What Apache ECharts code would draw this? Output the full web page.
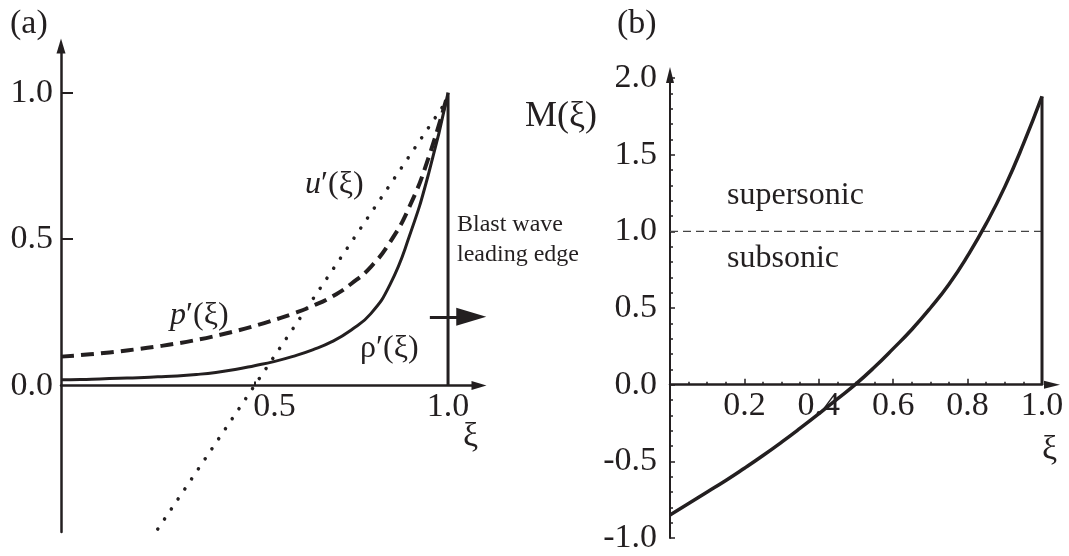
<!DOCTYPE html>
<html><head><meta charset="utf-8">
<script src="https://cdn.jsdelivr.net/npm/echarts@6/dist/echarts.min.js"></script>
<style>html,body{margin:0;padding:0;background:#fff}#c{width:1069px;height:556px}</style>
</head><body><div id="c"></div>
<script>
// ---- panel (a) data ----
const xiGrid = [0, 0.05, 0.1, 0.15, 0.2, 0.25, 0.3, 0.35, 0.4, 0.45, 0.5, 0.55, 0.6, 0.65, 0.7, 0.75, 0.8, 0.85, 0.9, 0.95, 1.0];
const rhoVal = [0.020, 0.021, 0.023, 0.025, 0.027, 0.030, 0.033, 0.038, 0.045, 0.055, 0.068, 0.082, 0.100, 0.122, 0.150, 0.190, 0.245, 0.345, 0.510, 0.725, 1.0];
const pVal = [0.099, 0.104, 0.110, 0.117, 0.125, 0.134, 0.144, 0.156, 0.170, 0.186, 0.204, 0.224, 0.246, 0.272, 0.304, 0.348, 0.405, 0.490, 0.610, 0.780, 1.0];
const uXi = [0.25, 0.5, 0.75, 1.0];
const uVal = [-0.49, 0.0, 0.49, 0.98];
const edgeA = [[1.0, 0.0], [1.0, 1.0]];
const blastArrow = [[0.953, 0.235], [1.06, 0.235]];
const aXTickLabels = [0.5, 1.0];
const aXTicks = [0.5];
const aYTickLabels = [0.0, 0.5, 1.0];
const aYTicks = [0.5, 1.0];
// ---- panel (b) data ----
const mVal = [-0.85, -0.775, -0.70, -0.625, -0.545, -0.462, -0.375, -0.284, -0.19, -0.093, 0.005, 0.115, 0.235, 0.36, 0.50, 0.655, 0.84, 1.05, 1.29, 1.57, 1.88];
const edgeB = [[1.0, 0.0], [1.0, 1.88]];
const sonicLine = [[0.0, 1.0], [1.0, 1.0]];
const bXTickLabels = [0.2, 0.4, 0.6, 0.8, 1.0];

const INK = '#231f20';
const FF = '"Liberation Serif", "DejaVu Serif", serif';
const pair = (xs, ys) => xs.map((x, i) => [x, ys[i]]);

const chart = echarts.init(document.getElementById('c'), null, {renderer: 'canvas'});
const lbl = (extra) => Object.assign({color: INK, fontFamily: FF, fontSize: 34}, extra);
const txt = (x, y, text, size, extra) => Object.assign({
  type: 'text', x: x, y: y,
  style: Object.assign({text: text, font: size + 'px ' + FF, fill: INK, textAlign: 'left', textVerticalAlign: 'middle'}, extra || {})
});

chart.setOption({
  animation: false,
  backgroundColor: '#fff',
  grid: [
    {left: 61, top: 46, width: 418, height: 486, outerBoundsMode: 'none', containLabel: false},
    {left: 670, top: 78, width: 372, height: 460, outerBoundsMode: 'none', containLabel: false}
  ],
  xAxis: [
    {type: 'value', gridIndex: 0, min: 0, max: 1.08, position: 'bottom', offset: -146.4,
     axisLine: {onZero: false, lineStyle: {color: INK, width: 2.5}, symbol: ['none', 'triangle'], symbolSize: [9, 15], symbolOffset: [0, 0]},
     axisTick: {show: true, inside: true, length: 4, customValues: aXTicks, lineStyle: {color: INK, width: 2}},
     axisLabel: lbl({margin: 4, customValues: aXTickLabels,
       formatter: v => v === 0.5 ? '{s|0.5}' : v.toFixed(1),
       rich: {s: {color: INK, fontFamily: FF, fontSize: 34, padding: [0, 0, 0, 40]}}}),
     splitLine: {show: false}},
    {type: 'value', gridIndex: 1, min: 0, max: 1.0, interval: 0.2, position: 'bottom', offset: -153.3,
     axisLine: {onZero: false, lineStyle: {color: INK, width: 2.5}, symbol: ['none', 'triangle'], symbolSize: [8, 16], symbolOffset: [0, 10]},
     axisTick: {show: true, inside: true, length: 6, lineStyle: {color: INK, width: 1.5}},
     minorTick: {show: true, splitNumber: 4, length: 3, lineStyle: {color: INK, width: 1.5}},
     axisLabel: lbl({margin: 4, customValues: bXTickLabels, formatter: v => v.toFixed(1)}),
     splitLine: {show: false}, minorSplitLine: {show: false}}
  ],
  yAxis: [
    {type: 'value', gridIndex: 0, min: -0.5, max: 1.16,
     axisLine: {onZero: false, lineStyle: {color: INK, width: 2.5}, symbol: ['none', 'triangle'], symbolSize: [9, 15]},
     axisTick: {show: true, inside: true, length: 12, customValues: aYTicks, lineStyle: {color: INK, width: 2}},
     axisLabel: lbl({margin: 8, customValues: aYTickLabels, formatter: v => v.toFixed(1)}),
     splitLine: {show: false}},
    {type: 'value', gridIndex: 1, min: -1.0, max: 2.0, interval: 0.5,
     axisLine: {onZero: false, lineStyle: {color: INK, width: 2}, symbol: ['none', 'triangle'], symbolSize: [8, 16], symbolOffset: [0, 3]},
     axisTick: {show: true, inside: true, length: 5, lineStyle: {color: INK, width: 1.5}},
     minorTick: {show: true, splitNumber: 5, length: 3, lineStyle: {color: INK, width: 1.5}},
     axisLabel: lbl({margin: 13, formatter: v => v.toFixed(1)}),
     splitLine: {show: false}, minorSplitLine: {show: false}}
  ],
  series: [
    {type: 'line', xAxisIndex: 0, yAxisIndex: 0, data: pair(uXi, uVal), showSymbol: false, clip: false,
     lineStyle: {color: INK, width: 3.5, type: [0.1, 12], cap: 'round'}},
    {type: 'line', xAxisIndex: 0, yAxisIndex: 0, data: pair(xiGrid, pVal), showSymbol: false, smooth: 0.5,
     lineStyle: {color: INK, width: 4, type: [13, 7]}},
    {type: 'line', xAxisIndex: 0, yAxisIndex: 0, data: pair(xiGrid, rhoVal), showSymbol: false, smooth: 0.5,
     lineStyle: {color: INK, width: 3}},
    {type: 'line', xAxisIndex: 0, yAxisIndex: 0, data: edgeA, showSymbol: false, clip: false,
     lineStyle: {color: INK, width: 3},
     markLine: {silent: true, animation: false, symbol: ['none', 'triangle'], symbolSize: [18, 30],
       label: {show: false}, lineStyle: {color: INK, width: 3, type: 'solid'},
       data: [[{coord: blastArrow[0]}, {coord: blastArrow[1]}]]}},
    {type: 'line', xAxisIndex: 1, yAxisIndex: 1, data: sonicLine, showSymbol: false,
     lineStyle: {color: '#444', width: 1.2, type: [8, 5]}},
    {type: 'line', xAxisIndex: 1, yAxisIndex: 1, data: pair(xiGrid, mVal), showSymbol: false, smooth: 0.5,
     lineStyle: {color: INK, width: 3.5}},
    {type: 'line', xAxisIndex: 1, yAxisIndex: 1, data: edgeB, showSymbol: false, clip: false,
     lineStyle: {color: INK, width: 3}}
  ],
  graphic: [
    txt(10, 24, '(a)', 34),
    txt(617, 24, '(b)', 34),
    txt(525, 117, 'M(ξ)', 36),
    txt(305, 185, '{i|u}′(ξ)', 32, {rich: {i: {fontStyle: 'italic', fontFamily: FF, fontSize: 32, fill: INK}}}),
    txt(170, 316, '{i|p}′(ξ)', 32, {rich: {i: {fontStyle: 'italic', fontFamily: FF, fontSize: 32, fill: INK}}}),
    txt(360, 349, 'ρ′(ξ)', 32),
    txt(457, 225, 'Blast wave', 24),
    txt(457, 255, 'leading edge', 24),
    txt(727, 196, 'supersonic', 32),
    txt(727, 259, 'subsonic', 32),
    txt(463, 437, 'ξ', 34),
    txt(1042, 450, 'ξ', 34)
  ]
});
</script></body></html>
